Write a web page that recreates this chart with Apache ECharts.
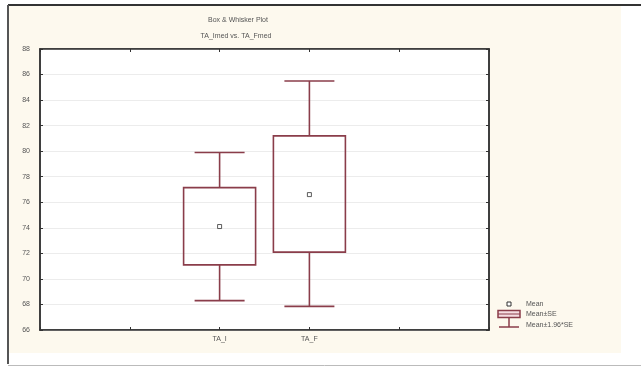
<!DOCTYPE html>
<html><head><meta charset="utf-8">
<script src="https://cdn.jsdelivr.net/npm/echarts@6/dist/echarts.min.js"></script>
<style>html,body{margin:0;padding:0;background:#fff;}#c{width:641px;height:367px;}</style>
</head><body><div id="c"></div>
<script>
var xLabels = ['', '', 'TA_I', 'TA_F', '', ''];
var categories = ['TA_I', 'TA_F'];
var means = [74.1, 76.6];
var seLow = [71.1, 72.1];
var seHigh = [77.15, 81.2];
var ciLow = [68.3, 67.85];
var ciHigh = [79.9, 85.5];
var yMin = 66, yMax = 88, yStep = 2;

var boxColor = '#8a3d4a';
var chart = echarts.init(document.getElementById('c'), null, {renderer: 'canvas'});

var boxData = categories.map(function (c, i) {
  return [c, ciLow[i], seLow[i], seHigh[i], ciHigh[i]];
});
var meanData = categories.map(function (c, i) { return [c, means[i]]; });

function renderBox(params, api) {
  var x = api.value(0);
  var pLo = api.coord([x, api.value(1)]);
  var pQ1 = api.coord([x, api.value(2)]);
  var pQ3 = api.coord([x, api.value(3)]);
  var pHi = api.coord([x, api.value(4)]);
  var cx = pLo[0];
  var bw = 36, cw = 25;
  var st = {stroke: boxColor, lineWidth: 1.6, fill: null};
  return {
    type: 'group',
    children: [
      {type: 'line', shape: {x1: cx, y1: pHi[1], x2: cx, y2: pQ3[1]}, style: st},
      {type: 'line', shape: {x1: cx, y1: pQ1[1], x2: cx, y2: pLo[1]}, style: st},
      {type: 'line', shape: {x1: cx - cw, y1: pHi[1], x2: cx + cw, y2: pHi[1]}, style: st},
      {type: 'line', shape: {x1: cx - cw, y1: pLo[1], x2: cx + cw, y2: pLo[1]}, style: st},
      {type: 'rect', shape: {x: cx - bw, y: pQ3[1], width: 2 * bw, height: pQ1[1] - pQ3[1]}, style: {stroke: boxColor, lineWidth: 1.6, fill: 'rgba(255,255,255,0)'}}
    ]
  };
}

var txt = '#555';
var fontF = 'Liberation Sans, Arial, sans-serif';

var option = {
  backgroundColor: '#ffffff',
  animation: false,
  graphic: [
    {type: 'rect', z: -10, shape: {x: 9, y: 6, width: 612, height: 347}, style: {fill: '#fdf9ee'}},
    {type: 'line', z: 10, shape: {x1: 8, y1: 5, x2: 641, y2: 5}, style: {stroke: '#333', lineWidth: 2}},
    {type: 'line', z: 10, shape: {x1: 8, y1: 5, x2: 8, y2: 364}, style: {stroke: '#555', lineWidth: 2}},
    {type: 'line', z: 10, shape: {x1: 8, y1: 365.5, x2: 641, y2: 365.5}, style: {stroke: '#bbb', lineWidth: 1}},
    {type: 'text', style: {text: 'Box & Whisker Plot', x: 238, y: 20, fill: txt, font: '7px ' + fontF, textAlign: 'center', textVerticalAlign: 'middle'}},
    {type: 'text', style: {text: 'TA_Imed vs. TA_Fmed', x: 236, y: 36, fill: txt, font: '7px ' + fontF, textAlign: 'center', textVerticalAlign: 'middle'}},
    {type: 'rect', shape: {x: 507, y: 302, width: 4, height: 4}, style: {fill: '#fff', stroke: '#333', lineWidth: 1}},
    {type: 'rect', shape: {x: 498, y: 310.5, width: 22, height: 7}, style: {fill: '#f6dde2', stroke: boxColor, lineWidth: 1.5}},
    {type: 'line', shape: {x1: 498, y1: 314, x2: 520, y2: 314}, style: {stroke: boxColor, lineWidth: 1}},
    {type: 'line', shape: {x1: 509, y1: 318, x2: 509, y2: 327}, style: {stroke: boxColor, lineWidth: 1.5}},
    {type: 'line', shape: {x1: 499, y1: 327, x2: 519, y2: 327}, style: {stroke: boxColor, lineWidth: 1.5}},
    {type: 'text', style: {text: 'Mean', x: 526, y: 304, fill: txt, font: '7px ' + fontF, textVerticalAlign: 'middle'}},
    {type: 'text', style: {text: 'Mean\u00b1SE', x: 526, y: 314.5, fill: txt, font: '7px ' + fontF, textVerticalAlign: 'middle'}},
    {type: 'text', style: {text: 'Mean\u00b11.96*SE', x: 526, y: 325, fill: txt, font: '7px ' + fontF, textVerticalAlign: 'middle'}}
  ],
  grid: {left: 40, right: 152, top: 49, bottom: 37, show: true, backgroundColor: '#ffffff', borderColor: '#333', borderWidth: 1.5},
  xAxis: [
    {type: 'category', data: xLabels, boundaryGap: false, position: 'bottom',
      axisLine: {lineStyle: {color: '#333', width: 1.5}},
      axisTick: {inside: true, length: 3, lineStyle: {color: '#333'}},
      axisLabel: {color: txt, fontSize: 7, fontFamily: fontF, margin: 6, interval: 0},
      splitLine: {show: false}},
    {type: 'category', data: xLabels, boundaryGap: false, position: 'top',
      axisLine: {lineStyle: {color: '#333', width: 1.5}},
      axisTick: {inside: true, length: 3, lineStyle: {color: '#333'}},
      axisLabel: {show: false}, splitLine: {show: false}}
  ],
  yAxis: [
    {type: 'value', min: yMin, max: yMax, interval: yStep, position: 'left',
      axisLine: {show: true, lineStyle: {color: '#333', width: 1.5}},
      axisTick: {show: true, inside: true, length: 3, lineStyle: {color: '#333'}},
      axisLabel: {color: txt, fontSize: 7, fontFamily: fontF, margin: 10},
      splitLine: {show: true, lineStyle: {color: '#ececec', width: 1}}},
    {type: 'value', min: yMin, max: yMax, interval: yStep, position: 'right',
      axisLine: {show: true, lineStyle: {color: '#333', width: 1.5}},
      axisTick: {show: true, inside: true, length: 3, lineStyle: {color: '#333'}},
      axisLabel: {show: false}, splitLine: {show: false}}
  ],
  series: [
    {type: 'custom', renderItem: renderBox, data: boxData, encode: {x: 0, y: [1, 2, 3, 4]}, z: 3},
    {type: 'scatter', data: meanData, symbol: 'rect', symbolSize: 4,
      itemStyle: {color: '#fff', borderColor: '#333', borderWidth: 1}, z: 5}
  ]
};
chart.setOption(option);
</script></body></html>
